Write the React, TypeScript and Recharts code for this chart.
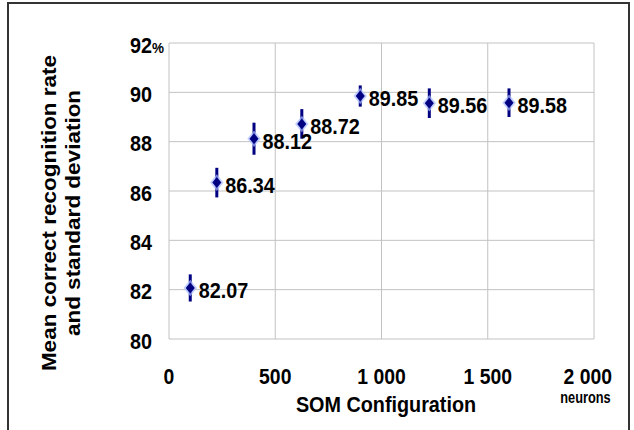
import React from "react"
import { ScatterChart, Scatter, XAxis, YAxis, CartesianGrid, ErrorBar } from "recharts"

// SOM map sizes (neurons) and recognition results
const neurons = [100, 225, 400, 625, 900, 1225, 1600]
const meanRates = [82.07, 86.34, 88.12, 88.72, 89.85, 89.56, 89.58]
const stdDevs = [0.55, 0.6, 0.65, 0.6, 0.43, 0.6, 0.58]
const xTicks = [0, 500, 1000, 1500, 2000]
const yTicks = [80, 82, 84, 86, 88, 90, 92]

const data = neurons.map((n, i) => ({ n, rate: meanRates[i], sd: stdDevs[i] }))

const FONT = "'Liberation Sans', Arial, sans-serif"
const NAVY = "#000080"

const fmtThousands = (v: number) => String(v).replace(/\B(?=(\d{3})+(?!\d))/g, " ")

const YTick = ({ y, payload }: any) => {
  const v = payload.value
  return (
    <g>
      <text
        transform={`translate(152, ${y + 9.5}) scale(0.9, 1)`}
        textAnchor="end"
        fontFamily={FONT}
        fontWeight="bold"
        fontSize={22}
        fill="#000"
      >
        {v}
      </text>
      {v === 92 && (
        <text
          transform={`translate(152, ${y + 9.5}) scale(0.9, 1)`}
          textAnchor="start"
          fontFamily={FONT}
          fontWeight="bold"
          fontSize={15}
          fill="#000"
        >
          %
        </text>
      )}
    </g>
  )
}

const XTick = ({ x, y, payload }: any) => {
  const v = payload.value
  const last = v === xTicks[xTicks.length - 1]
  return (
    <text
      transform={`translate(${last ? x + 18 : x}, ${y + 37}) scale(0.88, 1)`}
      textAnchor={last ? "end" : "middle"}
      fontFamily={FONT}
      fontWeight="bold"
      fontSize={22}
      fill="#000"
    >
      {fmtThousands(v)}
    </text>
  )
}

const Diamond = (props: any) => {
  const { cx, cy, payload } = props
  const w = 4.5
  const h = 5.5
  const pts = `${cx},${cy - h} ${cx + w},${cy} ${cx},${cy + h} ${cx - w},${cy}`
  return (
    <g>
      <polygon points={pts} fill="#8ea6ff" stroke="#a9bcff" strokeWidth={3.5} strokeOpacity={0.7} />
      <polygon points={pts} fill={NAVY} />
      <text
        transform={`translate(${cx + 8.5}, ${cy + 10}) scale(0.9, 1)`}
        fontFamily={FONT}
        fontWeight="bold"
        fontSize={22}
        fill="#000"
      >
        {payload.rate.toFixed(2)}
      </text>
    </g>
  )
}

export default function App() {
  return (
    <div
      style={{
        position: "fixed",
        left: 0,
        top: 0,
        width: 634,
        height: 430,
        overflow: "hidden",
        background: "#fff",
      }}
    >
      <ScatterChart width={634} height={430} margin={{ top: 43, right: 40, bottom: 61, left: 0 }}>
        <CartesianGrid stroke="#c2c2c2" strokeWidth={1} />
        <XAxis
          type="number"
          dataKey="n"
          domain={[0, 2000]}
          ticks={xTicks}
          axisLine={false}
          tickLine={false}
          height={30}
          tick={<XTick />}
          interval={0}
        />
        <YAxis
          type="number"
          dataKey="rate"
          domain={[80, 92]}
          ticks={yTicks}
          axisLine={false}
          tickLine={false}
          width={169}
          tick={<YTick />}
          interval={0}
        />
        <Scatter data={data} shape={<Diamond />} isAnimationActive={false}>
          <ErrorBar dataKey="sd" direction="y" width={0} stroke={NAVY} strokeWidth={3} />
        </Scatter>
        <text
          transform="translate(56, 213) rotate(-90) scale(1, 0.88)"
          textAnchor="middle"
          fontFamily={FONT}
          fontWeight="bold"
          fontSize={22.5}
          fill="#000"
        >
          Mean correct recognition rate
        </text>
        <text
          transform="translate(80, 213) rotate(-90) scale(1, 0.88)"
          textAnchor="middle"
          fontFamily={FONT}
          fontWeight="bold"
          fontSize={22.5}
          fill="#000"
        >
          and standard deviation
        </text>
        <text
          transform="translate(386, 412) scale(0.9, 1)"
          textAnchor="middle"
          fontFamily={FONT}
          fontWeight="bold"
          fontSize={22}
          fill="#000"
        >
          SOM Configuration
        </text>
        <text
          transform="translate(585.5, 403) scale(0.8, 1)"
          textAnchor="middle"
          fontFamily={FONT}
          fontWeight="bold"
          fontSize={16}
          fill="#000"
        >
          neurons
        </text>
      </ScatterChart>
      <div
        style={{
          position: "absolute",
          left: 7,
          top: 2,
          width: 619,
          height: 460,
          borderTop: "2px solid #333",
          borderLeft: "2px solid #333",
          borderRight: "2px solid #333",
          pointerEvents: "none",
          zIndex: 5,
        }}
      />
    </div>
  )
}
